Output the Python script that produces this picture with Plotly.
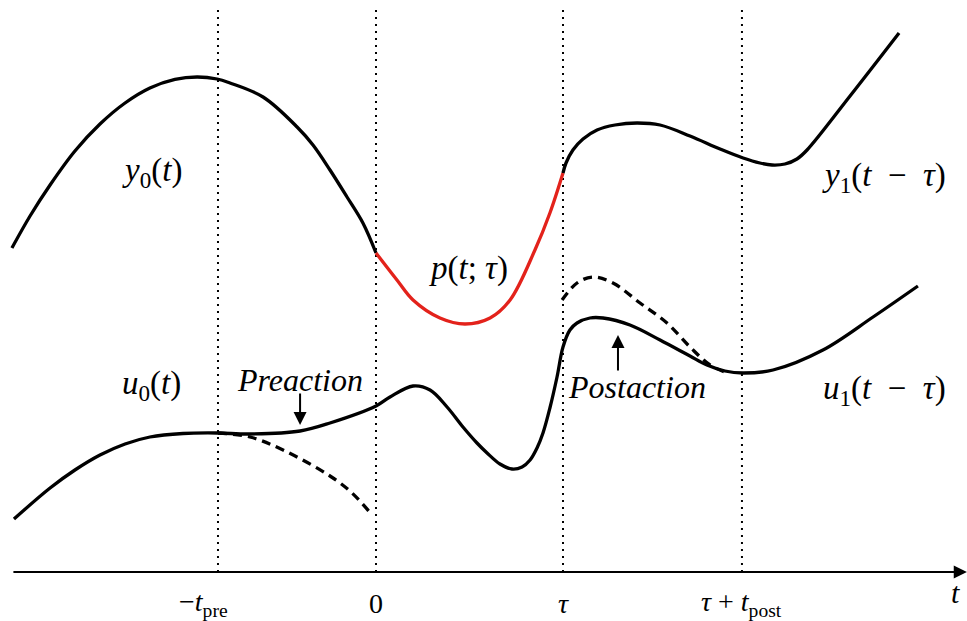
import plotly.graph_objects as go

# ---- data (time t, value v); tau = 10 time units ----
TAU = 10.0
T_PRE = 8.45
T_POST = 9.57

tick_pos = [-T_PRE, 0.0, TAU, TAU + T_POST]
tick_labels = ["−<i>t</i><sub>pre</sub>", "0", "<i>τ</i>", "<i>τ</i> + <i>t</i><sub>post</sub>"]
tick_shift = [-14, 0, 0, 0]

y0_t = [-19.47, -18.50, -17.43, -16.10, -14.76, -13.42, -12.09, -10.75, -9.57, -8.50,
        -7.81, -6.04, -4.22, -3.37, -2.46, -1.55, -0.70, 0.0]
y0_v = [32.4, 35.6, 38.7, 42.1, 44.8, 46.9, 48.4, 49.26, 49.5, 49.3,
        48.9, 47.5, 44.5, 42.7, 40.2, 37.5, 34.9, 31.9]

p_t = [0.0, 1.12, 1.98, 3.42, 4.76, 6.10, 7.17, 8.50, 9.30, 10.0]
p_v = [31.9, 29.2, 27.2, 25.4, 24.8, 25.4, 27.2, 32.2, 35.9, 39.9]

y1_t = [10.0, 10.16, 10.53, 11.07, 11.82, 12.78, 13.96, 15.19, 16.79, 18.40, 19.63,
        20.53, 21.18, 21.87, 22.51, 23.05, 25.35, 27.97]
y1_v = [39.9, 40.9, 42.2, 43.3, 44.2, 44.7, 44.9, 44.7, 43.6, 42.3, 41.4,
        40.9, 40.7, 40.8, 41.3, 42.2, 47.6, 53.9]

u_t = [-19.36, -17.43, -16.10, -14.76, -13.42, -12.09, -10.32, -8.50, -6.74, -4.06, -2.46,
       0.0, 0.75, 1.98, 2.89, 3.80, 4.65, 5.40, 5.94, 6.63, 7.27, 7.81, 8.24, 8.61, 8.93,
       9.30, 9.68, 10.0, 10.37, 10.75, 11.44, 12.14, 13.58, 15.19, 16.79, 17.70, 18.66,
       19.63, 21.23, 23.90, 26.58, 28.98]
u_v = [5.3, 8.4, 10.2, 11.7, 12.8, 13.5, 13.85, 13.9, 13.8, 14.1, 14.9,
       16.6, 17.5, 18.6, 18.2, 16.5, 14.5, 12.9, 11.9, 10.8, 10.3, 10.5, 11.2, 12.4, 13.9,
       16.4, 19.5, 22.5, 24.2, 24.9, 25.4, 25.4, 24.7, 23.2, 21.6, 20.7, 20.1,
       19.9, 20.2, 22.2, 25.5, 28.6]

u0_free_t = [-8.45, -6.74, -4.97, -2.46, -1.28, -0.21]
u0_free_v = [13.9, 13.5, 12.2, 9.6, 7.9, 5.7]

u1_free_t = [9.95, 10.75, 11.60, 12.67, 14.12, 15.56, 16.79, 17.86, 18.66]
u1_free_v = [27.2, 28.9, 29.5, 28.9, 26.9, 24.9, 22.5, 20.7, 20.0]

X_RANGE = [-20.107, 31.604]
Y_RANGE = [-4.9, 57.2]

FONT = "Liberation Serif"
BLACK = "#000000"
RED = "#e3221b"

fig = go.Figure()

# dotted vertical guides
for tp in tick_pos:
    fig.add_trace(go.Scatter(x=[tp, tp], y=[0, 56.7], mode="lines",
                             line=dict(color=BLACK, width=2, dash="2px,5px"),
                             hoverinfo="skip"))

SOLID = dict(color=BLACK, width=3.3, shape="spline", smoothing=1.0)
fig.add_trace(go.Scatter(x=y0_t, y=y0_v, mode="lines", line=SOLID))
fig.add_trace(go.Scatter(x=p_t, y=p_v, mode="lines", line=dict(SOLID, color=RED)))
fig.add_trace(go.Scatter(x=y1_t, y=y1_v, mode="lines", line=SOLID))
fig.add_trace(go.Scatter(x=u_t, y=u_v, mode="lines", line=SOLID))
fig.add_trace(go.Scatter(x=u0_free_t, y=u0_free_v, mode="lines", line=dict(SOLID, dash="9px,6px")))
fig.add_trace(go.Scatter(x=u1_free_t, y=u1_free_v, mode="lines", line=dict(SOLID, dash="9px,6px")))

ann = []
# time axis with arrow
ann.append(dict(x=31.6, y=0, ax=-19.47, ay=0, xref="x", yref="y", axref="x", ayref="y",
                text="", showarrow=True, arrowhead=2, arrowwidth=2.2, arrowsize=1.2, arrowcolor=BLACK))
# pre/post action arrows
ann.append(dict(x=-4.06, y=14.7, ax=-4.06, ay=18.0, xref="x", yref="y", axref="x", ayref="y",
                text="", showarrow=True, arrowhead=2, arrowwidth=2.0, arrowsize=1.3, arrowcolor=BLACK))
ann.append(dict(x=12.94, y=23.7, ax=12.94, ay=20.0, xref="x", yref="y", axref="x", ayref="y",
                text="", showarrow=True, arrowhead=2, arrowwidth=2.0, arrowsize=1.3, arrowcolor=BLACK))

labels = [
    ("<i>y</i><sub>0</sub>(<i>t</i>)", -11.98, 40.0, 33),
    ("<i>u</i><sub>0</sub>(<i>t</i>)", -11.98, 18.7, 33),
    ("<i>p</i>(<i>t</i>; <i>τ</i>)", 4.92, 30.4, 33),
    ("<i>y</i><sub>1</sub>(<i>t</i>  −  <i>τ</i>)", 27.17, 39.5, 33),
    ("<i>u</i><sub>1</sub>(<i>t</i>  −  <i>τ</i>)", 27.17, 18.2, 33),
    ("<i>Preaction</i>", -4.06, 19.2, 32),
    ("<i>Postaction</i>", 13.96, 18.5, 32),
    ("<i>t</i>", 31.0, -2.0, 30),
]
for txt, x, y, sz in labels:
    ann.append(dict(x=x, y=y, xref="x", yref="y", text=txt, showarrow=False,
                    font=dict(family=FONT, size=sz, color=BLACK), xanchor="center", yanchor="middle"))

for tp, lab, sh in zip(tick_pos, tick_labels, tick_shift):
    ann.append(dict(x=tp, y=-3.1, xref="x", yref="y", text=lab, showarrow=False, xshift=sh,
                    font=dict(family=FONT, size=28, color=BLACK), xanchor="center", yanchor="middle"))

fig.update_layout(
    width=967, height=621, autosize=False,
    margin=dict(l=0, r=0, t=0, b=0, pad=0),
    paper_bgcolor="white", plot_bgcolor="white",
    showlegend=False,
    xaxis=dict(range=X_RANGE, visible=False, fixedrange=True),
    yaxis=dict(range=Y_RANGE, visible=False, fixedrange=True),
    annotations=ann,
)

fig.write_html("out.html", config={"displayModeBar": False},
               post_script="document.body.style.margin='0px';")
